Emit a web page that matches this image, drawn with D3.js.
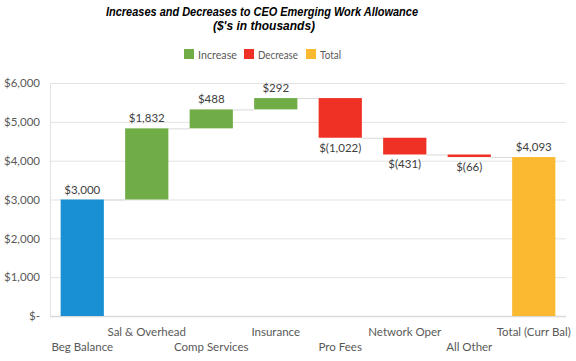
<!DOCTYPE html>
<html>
<head>
<meta charset="utf-8">
<script src="https://cdn.jsdelivr.net/npm/d3@7"></script>
<style>
  body { margin: 0; background: #fff; }
  text { font-family: Lato, "Open Sans", sans-serif; }
</style>
</head>
<body>
<script>
// waterfall data, $ thousands
const categories = ["Beg Balance", "Sal & Overhead", "Comp Services", "Insurance", "Pro Fees", "Network Oper", "All Other", "Total (Curr Bal)"];
const changes = [3000, 1832, 488, 292, -1022, -431, -66, 4093];
const kinds = ["total0", "inc", "inc", "inc", "dec", "dec", "dec", "total"];
const yTicks = [0, 1000, 2000, 3000, 4000, 5000, 6000];
const legendItems = ["Increase", "Decrease", "Total"];

const colors = {total0: "#1a90d4", inc: "#70ad47", dec: "#ee3124", total: "#fbb931"};
const legendColors = ["#70ad47", "#ee3124", "#fbb931"];

const W = 576, H = 361;
const margin = {top: 83, right: 10, bottom: 45, left: 50};
const fs = "11.5px";

// start/end of each bar
let run = 0;
const bars = changes.map((v, i) => {
  let y0, y1;
  if (kinds[i].startsWith("total")) { y0 = 0; y1 = v; run = v; }
  else { y0 = run; y1 = run + v; run = y1; }
  return {cat: categories[i], v, kind: kinds[i], y0, y1, i};
});

const svg = d3.select("body").append("svg")
  .attr("width", W).attr("height", H);

const x = d3.scaleBand()
  .domain(categories)
  .range([margin.left, W - margin.right])
  .paddingInner(0.33).paddingOuter(0.165);

const y = d3.scaleLinear()
  .domain([0, 6000])
  .range([H - margin.bottom, margin.top]);

// title
svg.append("text").attr("x", 262).attr("y", 16)
  .attr("text-anchor", "middle")
  .style("font-family", "'Liberation Sans', Arial, sans-serif")
  .style("font-weight", "bold").style("font-style", "italic")
  .style("font-size", "12px").attr("textLength", 312).attr("lengthAdjust", "spacingAndGlyphs")
  .text("Increases and Decreases to CEO Emerging Work Allowance");
svg.append("text").attr("x", 264).attr("y", 30)
  .attr("text-anchor", "middle")
  .style("font-family", "'Liberation Sans', Arial, sans-serif")
  .style("font-weight", "bold").style("font-style", "italic")
  .style("font-size", "12px")
  .text("($'s in thousands)");

// legend
const lg = svg.append("g").attr("transform", "translate(184,49)");
const legX = [0, 60, 122];
const legW = [39, 40, 21];
legendItems.forEach((d, i) => {
  lg.append("rect").attr("x", legX[i]).attr("y", 0).attr("width", 10).attr("height", 10)
    .attr("fill", legendColors[i]);
  lg.append("text").attr("x", legX[i] + 14).attr("y", 9.5)
    .style("font-size", "11.5px").attr("fill", "#595959")
    .attr("textLength", legW[i]).attr("lengthAdjust", "spacingAndGlyphs")
    .text(d);
});

// gridlines
svg.append("g").selectAll("line")
  .data(yTicks.filter(d => d > 0))
  .join("line")
  .attr("x1", margin.left).attr("x2", W - margin.right)
  .attr("y1", d => y(d) + 0.5).attr("y2", d => y(d) + 0.5)
  .attr("stroke", "#e3e3e3").attr("stroke-width", 1);

// y axis
const yAxis = svg.append("g")
  .attr("transform", `translate(${margin.left},0)`)
  .call(d3.axisLeft(y).tickValues(yTicks).tickSize(0).tickPadding(10)
    .tickFormat(d => d === 0 ? "$-" : "$" + d3.format(",")(d)));
yAxis.select(".domain").attr("stroke", "#e3e3e3");
yAxis.selectAll("text").style("font-size", fs).attr("fill", "#595959")
  .style("font-family", "Lato, sans-serif");

// x baseline
svg.append("line")
  .attr("x1", margin.left).attr("x2", W - margin.right)
  .attr("y1", y(0) + 0.5).attr("y2", y(0) + 0.5)
  .attr("stroke", "#d9d9d9").attr("stroke-width", 1.5);

// connectors
svg.append("g").selectAll("line")
  .data(bars.slice(0, -1))
  .join("line")
  .attr("x1", d => x(d.cat) + x.bandwidth())
  .attr("x2", d => x(categories[d.i + 1]))
  .attr("y1", d => y(d.y1) + 0.5).attr("y2", d => y(d.y1) + 0.5)
  .attr("stroke", "#d9d9d9").attr("stroke-width", 1);

// bars
svg.append("g").selectAll("rect")
  .data(bars)
  .join("rect")
  .attr("x", d => x(d.cat))
  .attr("width", x.bandwidth())
  .attr("y", d => y(Math.max(d.y0, d.y1)))
  .attr("height", d => Math.abs(y(d.y0) - y(d.y1)))
  .attr("fill", d => colors[d.kind]);

// value labels
const fmt = v => v < 0 ? "$(" + d3.format(",")(-v) + ")" : "$" + d3.format(",")(v);
svg.append("g").selectAll("text")
  .data(bars)
  .join("text")
  .attr("x", d => x(d.cat) + x.bandwidth() / 2)
  .attr("y", d => d.v < 0 ? y(d.y1) + 14 : y(d.y1) - 6)
  .attr("text-anchor", "middle")
  .style("font-size", fs).attr("fill", "#404040")
  .text(d => fmt(d.v));

// category labels, staggered
svg.append("g").selectAll("text")
  .data(categories)
  .join("text")
  .attr("x", d => x(d) + x.bandwidth() / 2)
  .attr("y", (d, i) => i % 2 === 0 ? 351 : 336)
  .attr("text-anchor", "middle")
  .style("font-size", fs).attr("fill", "#595959")
  .text(d => d);
</script>
</body>
</html>
